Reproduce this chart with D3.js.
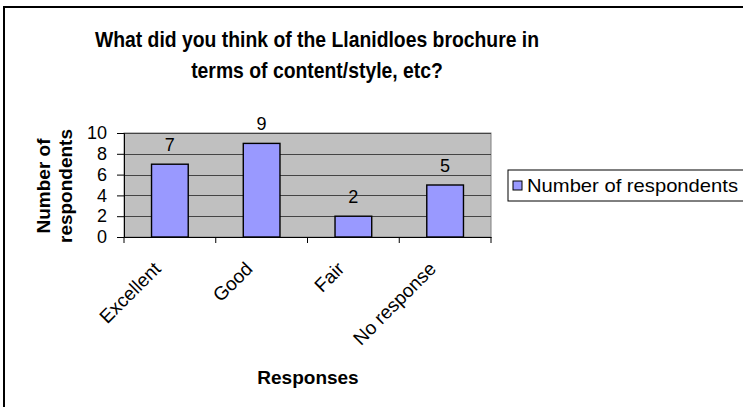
<!DOCTYPE html>
<html>
<head>
<meta charset="utf-8">
<script src="https://cdn.jsdelivr.net/npm/d3@7"></script>
<style>
	body { margin: 0; background: #fff; }
	text { font-family: Arial, 'Liberation Sans', sans-serif; fill: #000; }
</style>
</head>
<body>
<div id="chart"></div>
<script>
const categories = ['Excellent', 'Good', 'Fair', 'No response'];
const values = [7, 9, 2, 5];
const yTicks = [0, 2, 4, 6, 8, 10];
const seriesName = 'Number of respondents';
const titleLines = ['What did you think of the Llanidloes brochure in', 'terms of content/style, etc?'];

const W = 743, H = 407;
const plot = { left: 124, right: 491, top: 133, bottom: 237 };

const svg = d3.select('#chart').append('svg')
	.attr('width', W)
	.attr('height', H);

// chart border (runs off the right and bottom edges)
svg.append('rect')
	.attr('x', 4).attr('y', 7)
	.attr('width', 800).attr('height', 450)
	.attr('fill', '#fff')
	.attr('stroke', '#000')
	.attr('stroke-width', 2);

// title, a little condensed like the original
svg.append('g')
	.attr('transform', 'translate(317,0) scale(0.88,1)')
	.selectAll('text')
	.data(titleLines)
	.enter()
	.append('text')
	.attr('x', 0)
	.attr('y', (d, i) => 47 + i * 31)
	.attr('text-anchor', 'middle')
	.attr('font-size', 22)
	.attr('font-weight', 'bold')
	.text(d => d);

const x = d3.scaleBand().domain(categories).range([plot.left, plot.right]).padding(0);
const y = d3.scaleLinear().domain([0, 10]).range([plot.bottom, plot.top]);

// plot area
svg.append('rect')
	.attr('x', plot.left).attr('y', plot.top)
	.attr('width', plot.right - plot.left)
	.attr('height', plot.bottom - plot.top)
	.attr('fill', '#c0c0c0')
	.attr('stroke', '#808080')
	.attr('stroke-width', 1);

// gridlines
svg.append('g')
	.selectAll('line')
	.data(yTicks.filter(d => d > 0))
	.enter()
	.append('line')
	.attr('x1', plot.left).attr('x2', plot.right)
	.attr('y1', d => Math.round(y(d)) + 0.5)
	.attr('y2', d => Math.round(y(d)) + 0.5)
	.attr('stroke', '#444')
	.attr('stroke-width', 1);

// bars
const barW = x.bandwidth() * 0.4;
svg.append('g')
	.selectAll('rect')
	.data(values)
	.enter()
	.append('rect')
	.attr('x', (d, i) => x(categories[i]) + (x.bandwidth() - barW) / 2)
	.attr('y', d => y(d))
	.attr('width', barW)
	.attr('height', d => y(0) - y(d))
	.attr('fill', '#9999ff')
	.attr('stroke', '#000')
	.attr('stroke-width', 1.4);

// data labels
svg.append('g')
	.selectAll('text')
	.data(values)
	.enter()
	.append('text')
	.attr('x', (d, i) => x(categories[i]) + x.bandwidth() / 2)
	.attr('y', d => y(d) - 13)
	.attr('text-anchor', 'middle')
	.attr('font-size', 18)
	.text(d => d);

// y axis
const yAxis = svg.append('g')
	.attr('transform', 'translate(' + plot.left + ',0)')
	.call(d3.axisLeft(y).tickValues(yTicks).tickSize(7).tickPadding(10));
yAxis.select('.domain').attr('stroke', '#000');
yAxis.selectAll('line').attr('stroke', '#000');
yAxis.selectAll('text').attr('font-size', 18);

// x axis
const xAxis = svg.append('g')
	.attr('transform', 'translate(0,' + plot.bottom + ')')
	.call(d3.axisBottom(x).tickSize(0).tickFormat(''));
xAxis.select('.domain').attr('stroke', '#000');
xAxis.append('g')
	.selectAll('line')
	.data(categories.concat(['end']))
	.enter()
	.append('line')
	.attr('x1', (d, i) => i < categories.length ? x(d) : plot.right)
	.attr('x2', (d, i) => i < categories.length ? x(d) : plot.right)
	.attr('y1', 0).attr('y2', 6)
	.attr('stroke', '#000');

svg.append('g')
	.selectAll('text')
	.data(categories)
	.enter()
	.append('text')
	.attr('text-anchor', 'end')
	.attr('font-size', 19)
	.attr('transform', d => 'translate(' + (x(d) + x.bandwidth() / 2 - 8) + ',' + (plot.bottom + 33) + ') rotate(-45)')
	.text(d => d);

// axis titles
svg.append('text')
	.attr('x', 308)
	.attr('y', 384)
	.attr('text-anchor', 'middle')
	.attr('font-size', 19)
	.attr('font-weight', 'bold')
	.text('Responses');

svg.append('g')
	.attr('transform', 'translate(50,186) rotate(-90)')
	.selectAll('text')
	.data(['Number of', 'respondents'])
	.enter()
	.append('text')
	.attr('x', 0)
	.attr('y', (d, i) => i * 22)
	.attr('text-anchor', 'middle')
	.attr('font-size', 19)
	.attr('font-weight', 'bold')
	.text(d => d);

// legend
const legend = svg.append('g').attr('transform', 'translate(508,170)');
legend.append('rect')
	.attr('x', 0).attr('y', 0)
	.attr('width', 300).attr('height', 31)
	.attr('fill', '#fff')
	.attr('stroke', '#000');
legend.append('rect')
	.attr('x', 5).attr('y', 11)
	.attr('width', 9).attr('height', 9)
	.attr('fill', '#9999ff')
	.attr('stroke', '#000');
legend.append('text')
	.attr('x', 19)
	.attr('y', 22)
	.attr('font-size', 19)
	.attr('textLength', 211)
	.attr('lengthAdjust', 'spacingAndGlyphs')
	.text(seriesName);
</script>
</body>
</html>
